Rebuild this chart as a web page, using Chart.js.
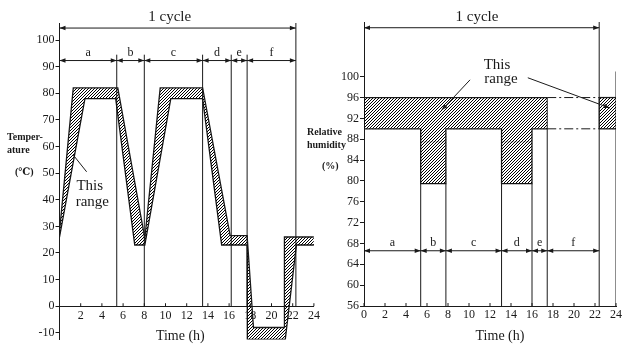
<!DOCTYPE html>
<html>
<head>
<meta charset="utf-8">
<script src="https://cdn.jsdelivr.net/npm/chart.js@4.4.1/dist/chart.umd.min.js"></script>
<style>
html, body { margin: 0; padding: 0; background: #fff; }
#wrap { position: relative; width: 640px; height: 352px; overflow: hidden; }
#temp { position: absolute; left: 0; top: 0; }
#hum { position: absolute; left: 300px; top: 0; }
</style>
</head>
<body>
<div id="wrap">
  <canvas id="temp" width="320" height="352"></canvas>
  <canvas id="hum" width="340" height="352"></canvas>
</div>
<script>
// ---- data ----
var tempTicks = [-10, 0, 10, 20, 30, 40, 50, 60, 70, 80, 90, 100];
var humTicks = [56, 60, 64, 68, 72, 76, 80, 84, 88, 92, 96, 100];
var tempHourTicks = [2, 4, 6, 8, 10, 12, 14, 16, 18, 20, 22, 24];
var humHourTicks = [0, 2, 4, 6, 8, 10, 12, 14, 16, 18, 20, 22, 24];
var phaseNames = ["a", "b", "c", "d", "e", "f"];

// temperature range (upper and lower limits), hours / degC
var tempHiTime = [0, 1.3, 5.5, 8.05, 9.5, 13.5, 16.1, 17.7, 18.3, 21.2, 21.22, 24];
var tempHiValue = [28, 82, 82, 25.5, 82, 82, 26.5, 26.5, -8, -8, 26, 26];
var tempLoTime = [0, 2.4, 5.3, 7.1, 8.05, 10.5, 13.5, 15.3, 17.7, 17.72, 21.3, 22.35, 24];
var tempLoValue = [26, 78, 78, 23, 23, 78, 78, 23, 23, -12.5, -12.5, 23, 23];
var tempPhases = [0, 5.4, 8.0, 13.5, 16.2, 17.7, 22.3];

// relative humidity range, hours / %
var humHiTime = [0, 17.45];
var humHiValue = [96, 96];
var humLoTime = [0, 5.4, 5.4, 7.8, 7.8, 13.1, 13.1, 16.0, 16.0, 17.45];
var humLoValue = [90, 90, 79.5, 79.5, 90, 90, 79.5, 79.5, 90, 90];
var humTailTime = [22.4, 24];
var humTailHi = [96, 96];
var humTailLo = [90, 90];
var humPhases = [0, 5.4, 7.8, 13.1, 16.0, 17.45, 22.4];

// ---- drawing helpers ----
var ink = "#1a1a1a";
var serif = "'Liberation Serif', 'DejaVu Serif', serif";

function pts(xs, ys) {
  return xs.map(function (x, i) { return { x: x, y: ys[i] }; });
}

function hatch() {
  var c = document.createElement("canvas");
  c.width = 3; c.height = 3;
  var g = c.getContext("2d");
  g.strokeStyle = "#000";
  g.lineWidth = 1;
  g.beginPath();
  g.moveTo(0, 3); g.lineTo(3, 0);
  g.moveTo(-1, 1); g.lineTo(1, -1);
  g.moveTo(2, 4); g.lineTo(4, 2);
  g.stroke();
  return g.createPattern(c, "repeat");
}

function band(hi, lo) {
  return [
    { data: hi, showLine: true, borderColor: ink, borderWidth: 1.3, pointRadius: 0, tension: 0, fill: "+1", backgroundColor: hatch() },
    { data: lo, showLine: true, borderColor: ink, borderWidth: 1.3, pointRadius: 0, tension: 0, fill: false }
  ];
}

function rule(x, y0, y1, dash, color) {
  return { data: [{ x: x[0], y: y0 }, { x: x[1], y: y1 }], showLine: true, borderColor: color || ink,
           borderWidth: 1, pointRadius: 0, fill: false, borderDash: dash || [] };
}

function vlines(times, y0, y1) {
  return times.map(function (t) { return rule([t, t], y0, y1); });
}

function seg(ctx, x0, y0, x1, y1) {
  ctx.beginPath(); ctx.moveTo(x0, y0); ctx.lineTo(x1, y1); ctx.stroke();
}

function head(ctx, x, y, ang) {
  ctx.beginPath();
  ctx.moveTo(x, y);
  ctx.lineTo(x - 6 * Math.cos(ang) + 2.2 * Math.sin(ang), y - 6 * Math.sin(ang) - 2.2 * Math.cos(ang));
  ctx.lineTo(x - 6 * Math.cos(ang) - 2.2 * Math.sin(ang), y - 6 * Math.sin(ang) + 2.2 * Math.cos(ang));
  ctx.closePath();
  ctx.fill();
}

function dimArrow(ctx, x0, x1, y) {
  seg(ctx, x0, y, x1, y);
  head(ctx, x0, y, Math.PI);
  head(ctx, x1, y, 0);
}

function text(ctx, s, x, y, font, align) {
  ctx.font = font;
  ctx.textAlign = align || "center";
  ctx.textBaseline = "middle";
  ctx.fillText(s, x, y);
}

function makeMarks(cfg) {
  return {
    id: "marks",
    afterDraw: function (chart) {
      var ctx = chart.ctx, sx = chart.scales.x, sy = chart.scales.y;
      function X(v) { return sx.getPixelForValue(v); }
      function Y(v) { return sy.getPixelForValue(v); }
      var p = cfg.phases;
      ctx.save();
      ctx.strokeStyle = ink;
      ctx.fillStyle = ink;
      ctx.lineWidth = 1;
      var base = Y(cfg.timeAxisAt);
      cfg.timeTicks.forEach(function (h) { seg(ctx, X(h), base, X(h), base - 3); });
      dimArrow(ctx, X(p[0]), X(p[p.length - 1]), Y(cfg.cycleAt));
      text(ctx, "1 cycle", X(cfg.cycleLabelX), Y(cfg.cycleAt) - 11, "15px " + serif);
      for (var i = 0; i < p.length - 1; i++) {
        dimArrow(ctx, X(p[i]), X(p[i + 1]), Y(cfg.phaseAt));
        text(ctx, phaseNames[i], (X(p[i]) + X(p[i + 1])) / 2, Y(cfg.phaseAt) - 8, "12px " + serif);
      }
      cfg.notes.forEach(function (n) { text(ctx, n.text, X(n.x), Y(n.y), "15px " + serif); });
      cfg.pointers.forEach(function (a) {
        var x0 = X(a.x0), y0 = Y(a.y0), x1 = X(a.x1), y1 = Y(a.y1);
        seg(ctx, x0, y0, x1, y1);
        if (a.head) head(ctx, x1, y1, Math.atan2(y1 - y0, x1 - x0));
      });
      cfg.titles.forEach(function (t) { text(ctx, t.text, t.left, t.top, "bold 10px " + serif, "left"); });
      text(ctx, "Time (h)", X(cfg.timeLabelX), chart.chartArea.top + cfg.timeLabelY, "14px " + serif);
      ctx.restore();
    }
  };
}

function axes(cfg) {
  var tickFont = { family: serif, size: 12 };
  return {
    x: {
      type: "linear", min: 0, max: 24,
      position: cfg.xPos,
      afterBuildTicks: function (s) { s.ticks = cfg.xTicks.map(function (v) { return { value: v }; }); },
      afterFit: function (s) { s.paddingLeft = 0; s.paddingRight = 0; if (cfg.xHeight) s.height = cfg.xHeight; },
      grid: { display: true, drawOnChartArea: false, drawTicks: false },
      border: { display: true, color: ink, width: 1 },
      ticks: { color: ink, padding: 2, font: tickFont, maxRotation: 0, autoSkip: false }
    },
    y: {
      type: "linear", min: cfg.yMin, max: cfg.yMax,
      afterBuildTicks: function (s) { s.ticks = cfg.yTicks.map(function (v) { return { value: v }; }); },
      afterFit: function (s) { s.width = cfg.yWidth; s.paddingTop = 0; s.paddingBottom = 0; },
      grid: { display: true, drawOnChartArea: false, drawTicks: true, tickLength: 4, color: ink },
      border: { display: true, color: ink, width: 1 },
      ticks: { color: ink, padding: 1, font: tickFont, autoSkip: false }
    }
  };
}

// ---- temperature chart ----
var tempSets = band(pts(tempHiTime, tempHiValue), pts(tempLoTime, tempLoValue))
  .concat(vlines(tempPhases.slice(1, 6), 0, 94.5))
  .concat(vlines([tempPhases[6]], 0, 106.4));

new Chart(document.getElementById("temp"), {
  type: "scatter",
  data: { datasets: tempSets },
  options: {
    responsive: false,
    animation: false,
    layout: { padding: { left: 0, right: 6.1, top: 23, bottom: 12.5 } },
    plugins: { legend: { display: false }, tooltip: { enabled: false } },
    scales: axes({ xPos: { y: 0 }, xTicks: tempHourTicks, yTicks: tempTicks, yMin: -12.5, yMax: 106.4, yWidth: 59.5 })
  },
  plugins: [makeMarks({
    phases: tempPhases, timeTicks: tempHourTicks, timeAxisAt: 0,
    cycleAt: 104.5, cycleLabelX: 10.4, phaseAt: 92.3,
    timeLabelX: 11.4, timeLabelY: 313,
    notes: [{ text: "This", x: 2.85, y: 45.1 }, { text: "range", x: 3.1, y: 39.3 }],
    pointers: [{ x0: 2.56, y0: 50.5, x1: 1.3, y1: 56.8, head: false }],
    titles: [{ text: "Temper-", left: 7, top: 137 }, { text: "ature", left: 7, top: 150 }, { text: "(\u2103)", left: 15, top: 172 }]
  })]
});

// ---- humidity chart ----
var humSets = band(pts(humHiTime, humHiValue), pts(humLoTime, humLoValue))
  .concat(band(pts(humTailTime, humTailHi), pts(humTailTime, humTailLo)))
  .concat(vlines([humPhases[1], humPhases[2], humPhases[3], humPhases[4]], 56, 79.5))
  .concat(vlines([humPhases[5]], 56, 96))
  .concat(vlines([humPhases[6]], 56, 110.5))
  .concat(vlines([24], 56, 101))
  .concat(vlines([humTailTime[0]], 90, 96))
  .concat([
    rule([humPhases[5], humPhases[6]], 96, 96, [9, 3, 2, 3]),
    rule([humPhases[5], humPhases[6]], 90, 90, [9, 3, 2, 3]),
    rule([humLoTime[1], humLoTime[3]], 87.5, 87.5, [], "#bbb"),
    rule([humLoTime[5], humLoTime[7]], 87.5, 87.5, [], "#bbb")
  ]);

new Chart(document.getElementById("hum"), {
  type: "scatter",
  data: { datasets: humSets },
  options: {
    responsive: false,
    animation: false,
    layout: { padding: { left: 0, right: 24, top: 22, bottom: 0 } },
    plugins: { legend: { display: false }, tooltip: { enabled: false } },
    scales: axes({ xPos: "bottom", xTicks: humHourTicks, yTicks: humTicks, yMin: 56, yMax: 110.5, yWidth: 64, xHeight: 46 })
  },
  plugins: [makeMarks({
    phases: humPhases, timeTicks: humHourTicks, timeAxisAt: 56,
    cycleAt: 109.4, cycleLabelX: 10.76, phaseAt: 66.6,
    timeLabelX: 12.95, timeLabelY: 314,
    notes: [{ text: "This", x: 12.67, y: 102.3 }, { text: "range", x: 13.05, y: 99.6 }],
    pointers: [{ x0: 10.1, y0: 99.4, x1: 7.4, y1: 93.6, head: true },
               { x0: 15.6, y0: 99.8, x1: 23.4, y1: 94.0, head: true }],
    titles: [{ text: "Relative", left: 7, top: 132 }, { text: "humidity", left: 7, top: 145 }, { text: "(%)", left: 22, top: 166 }]
  })]
});
</script>
</body>
</html>
